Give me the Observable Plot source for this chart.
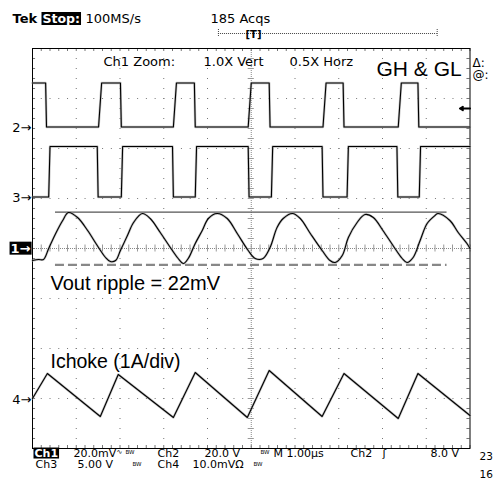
<!DOCTYPE html>
<html><head><meta charset="utf-8">
<script src="https://cdn.jsdelivr.net/npm/d3@7"></script>
<script src="https://cdn.jsdelivr.net/npm/@observablehq/plot@0.6"></script>
<style>body{margin:0;background:#fff;overflow:hidden}svg{display:block}</style>
</head><body>
<script>
// ---- data (time and amplitude in screen divisions) ----
const voutRipple = [[0,-0.24],[0.14,-0.22],[0.25,-0.22],[0.37,0],[0.53,0.30],[0.69,0.56],[0.82,0.72],[1.03,0.62],[1.26,0.36],[1.48,0.06],[1.67,-0.18],[1.78,-0.26],[1.90,-0.24],[2.01,-0.04],[2.17,0.26],[2.31,0.52],[2.51,0.70],[2.69,0.60],[2.92,0.32],[3.15,0.02],[3.33,-0.20],[3.45,-0.30],[3.56,-0.20],[3.72,0.10],[3.88,0.36],[4.02,0.60],[4.22,0.70],[4.45,0.60],[4.68,0.30],[4.93,-0.04],[5.09,-0.20],[5.27,-0.20],[5.43,0.02],[5.59,0.42],[5.73,0.60],[5.94,0.70],[6.12,0.60],[6.35,0.30],[6.62,-0.04],[6.80,-0.24],[6.92,-0.28],[7.08,-0.14],[7.22,0.22],[7.42,0.52],[7.60,0.68],[7.79,0.62],[8.01,0.36],[8.24,0.06],[8.45,-0.20],[8.56,-0.28],[8.70,-0.18],[8.86,0.16],[9.02,0.50],[9.20,0.66],[9.27,0.70],[9.54,0.56],[9.73,0.32],[9.93,0.10],[10,0]];
const ichoke = [[0,-3.0],[0.34,-2.5],[1.55,-3.36],[1.96,-2.52],[3.22,-3.38],[3.72,-2.48],[4.91,-3.38],[5.41,-2.44],[6.62,-3.36],[7.12,-2.5],[8.36,-3.4],[8.81,-2.5],[10,-3.34]];
const ghRise = [1.51, 3.22, 4.93, 6.64, 8.36];
const ghFall = [0.30, 2.01, 3.70, 5.41, 7.10, 8.81];
const ghLevels = [2.43, 3.31];   // low, high
const glRise = [0.37, 2.03, 3.72, 5.46, 7.19, 8.84];
const glFall = [1.48, 3.20, 4.93, 6.62, 8.33];
const glLevels = [1.03, 2.04];
const rippleTop = 0.726, rippleBottom = -0.326, rippleSpan = [0.525, 9.475];
const channelMarkers = [["2→", 2.42], ["3→", 1.02], ["4→", -3.02]];
const triggerLevel = 2.8;

function stepWave(rises, falls, [lo, hi], startHigh, riseW, fallW) {
  const ev = [...rises.map(t => [t, 1]), ...falls.map(t => [t, 0])].sort((a, b) => a[0] - b[0]);
  let s = startHigh ? hi : lo;
  const pts = [[0, s]];
  for (const [t, up] of ev) {
    if (up) { pts.push([t, lo], [t + riseW, hi]); s = hi; }
    else { pts.push([t, hi], [t + fallW, lo]); s = lo; }
  }
  pts.push([10, s]);
  return pts;
}
const gh = stepWave(ghRise, ghFall, ghLevels, true, 0.07, 0.02);
const gl = stepWave(glRise, glFall, glLevels, false, 0.03, 0.02);

// graticule geometry
const minorX = d3.range(0, 10.001, 0.2);
const minorY = d3.range(-4, 4.001, 0.2);
const majorX = [1,2,3,4,6,7,8,9];
const majorY = [-3,-2,-1,1,2,3];

const L = 32, T = 48;
const mono = "DejaVu Sans";
function lab(str, px, py, o = {}) {
  return Plot.text([str], {text: d => d, frameAnchor: "top-left", dx: px - L, dy: py - T,
    textAnchor: "start", lineAnchor: "middle", fill: "black", fontFamily: mono, fontSize: 12, ...o});
}
const trace = (data, o = {}) => [
  Plot.line(data, {x: d => d[0], y: d => d[1], stroke: "#999", strokeWidth: 2.4, strokeOpacity: 0.6, ...o}),
  Plot.line(data, {x: d => d[0], y: d => d[1], stroke: "#000", strokeWidth: 1.1, ...o})
];
const F = 11;

const chart = Plot.plot({
  width: 493, height: 485,
  marginLeft: L, marginRight: 23.5, marginTop: T, marginBottom: 37,
  x: {domain: [0, 10], axis: null},
  y: {domain: [-4, 4], axis: null},
  style: {background: "white", overflow: "visible"},
  marks: [
    // graticule
    Plot.ruleX(majorX, {stroke: "#777", strokeDasharray: "1,9"}),
    Plot.ruleY(majorY, {stroke: "#777", strokeDasharray: "1,7.76"}),
    Plot.ruleX([5], {stroke: "#888", strokeDasharray: "1,1"}),
    Plot.ruleY([0], {stroke: "#888", strokeDasharray: "1,1"}),
    Plot.ruleX(minorX, {x: d => d, y1: -0.07, y2: 0.07, stroke: "#999"}),
    Plot.ruleY(minorY, {y: d => d, x1: 4.93, x2: 5.07, stroke: "#999"}),
    Plot.ruleX(minorX, {x: d => d, y1: 4, y2: 3.94, stroke: "#777"}),
    Plot.ruleX(minorX, {x: d => d, y1: -4, y2: -3.94, stroke: "#777"}),
    Plot.ruleY(minorY, {y: d => d, x1: 0, x2: 0.07, stroke: "#777"}),
    Plot.ruleY(minorY, {y: d => d, x1: 9.93, x2: 10, stroke: "#777"}),
    Plot.frame({stroke: "black"}),
    // ripple reference lines
    Plot.ruleY([rippleTop], {x1: rippleSpan[0], x2: rippleSpan[1], stroke: "#555", strokeWidth: 1.3}),
    Plot.ruleY([rippleBottom], {x1: rippleSpan[0], x2: rippleSpan[1], stroke: "#888", strokeWidth: 2.2, strokeDasharray: "9,4"}),
    // traces
    ...trace(gh),
    ...trace(gl),
    ...trace(voutRipple, {curve: "catmull-rom"}),
    ...trace(ichoke),
    // trigger level arrow
    Plot.arrow([triggerLevel], {x1: 10, x2: 9.77, y1: d => d, y2: d => d, stroke: "black", strokeWidth: 2, headLength: 7}),
    // channel markers
    Plot.text(channelMarkers, {x: 0, y: d => d[1], dx: -1, text: d => d[0], textAnchor: "end", fontFamily: mono, fontSize: 13, fill: "black"}),
    Plot.text(["1→"], {x: 0, y: 0, dx: -2, text: d => d, textAnchor: "end", fontFamily: mono, fontSize: 13, fontWeight: "bold", fill: "white", className: "inv"}),
    // header
    lab("Tek", 12, 18.5, {fontWeight: "bold", fontSize: 13}),
    lab("Stop:", 42, 18.5, {fontWeight: "bold", fontSize: 12.5, fill: "white", className: "inv"}),
    lab("100MS/s", 85, 18.5, {fontSize: 13}),
    lab("185 Acqs", 210, 18.5, {fontSize: 13}),
    Plot.ruleY([4.3], {x1: 4.25, x2: 9.25, stroke: "#444", strokeDasharray: "1,1"}),
    Plot.ruleX([4.25, 9.25], {y1: 4.24, y2: 4.38, stroke: "#444", strokeDasharray: "1,1"}),
    lab("[T]", 245, 34, {fontSize: 10, fontWeight: "bold", letterSpacing: "-1.5px"}),
    lab("Ch1 Zoom:", 103, 61.5, {fontSize: 13}),
    lab("1.0X Vert", 203, 61.5, {fontSize: 13}),
    lab("0.5X Horz", 289, 61.5, {fontSize: 13}),
    lab("Δ:", 472, 62.5, {fontSize: 12}),
    lab("@:", 472, 75, {fontSize: 12}),
    // annotations
    lab("GH & GL", 376, 69, {fontFamily: "Liberation Sans", fontSize: 21}),
    lab("Vout ripple = 22mV", 50, 283.5, {fontFamily: "Liberation Sans", fontSize: 20}),
    lab("Ichoke (1A/div)", 50, 361, {fontFamily: "Liberation Sans", fontSize: 19.5}),
    // footer line 1
    lab("Ch1", 34, 452.5, {fontSize: F, fontWeight: "bold", fill: "white", className: "inv"}),
    lab("20.0mV", 73, 452.5, {fontSize: F}),
    lab("∿", 116, 451.5, {fontSize: 7}),
    lab("BW", 125, 452, {fontSize: 5.5}),
    lab("Ch2", 157, 452.5, {fontSize: F}),
    lab("20.0 V", 204, 452.5, {fontSize: F}),
    lab("BW", 260, 452, {fontSize: 5.5}),
    lab("M 1.00µs", 273, 452.5, {fontSize: F}),
    lab("Ch2", 350, 452.5, {fontSize: F}),
    lab("ʃ", 382, 452.5, {fontSize: F}),
    lab("8.0 V", 430, 452.5, {fontSize: F}),
    lab("23", 479, 456.5, {fontSize: 10.5}),
    // footer line 2
    lab("Ch3", 35, 464, {fontSize: F}),
    lab("5.00 V", 77, 464, {fontSize: F}),
    lab("BW", 132, 463.5, {fontSize: 5.5}),
    lab("Ch4", 157, 464, {fontSize: F}),
    lab("10.0mVΩ", 192, 464, {fontSize: F}),
    lab("BW", 253, 463.5, {fontSize: 5.5}),
    lab("16", 479, 474, {fontSize: 10.5})
  ]
});
document.body.appendChild(chart);
// black boxes behind inverted labels
d3.select(chart).selectAll("g.inv text").each(function () {
  const b = this.getBBox();
  const r = document.createElementNS("http://www.w3.org/2000/svg", "rect");
  r.setAttribute("x", b.x - 1); r.setAttribute("y", b.y + 1);
  r.setAttribute("width", b.width + 2); r.setAttribute("height", b.height - 2);
  r.setAttribute("fill", "black");
  const tr = this.getAttribute("transform"); if (tr) r.setAttribute("transform", tr);
  this.parentNode.insertBefore(r, this);
});
</script>
</body></html>
